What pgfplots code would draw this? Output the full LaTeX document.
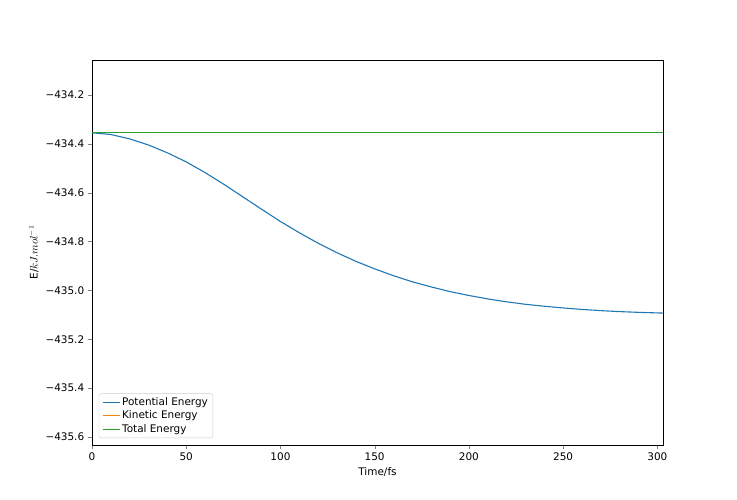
\documentclass[border=0pt]{standalone}
\usepackage{pgfplots}
\pgfplotsset{compat=1.18}
\usepackage{fontspec}
\setmainfont{DejaVu Sans}
\definecolor{cblue}{RGB}{31,119,180}
\definecolor{corange}{RGB}{255,127,14}
\definecolor{cgreen}{RGB}{44,160,44}
\begin{document}
\begin{tikzpicture}
\useasboundingbox (-92bp,-55bp) rectangle (645bp,445bp);
\begin{axis}[
  at={(0,0)}, anchor=south west, scale only axis,
  width=571bp, height=385bp,
  xmin=0, xmax=303, ymin=-435.633, ymax=-434.057,
  xtick={0,50,...,300},
  xticklabels={0,50,100,150,200,250,300},
  ytick={-435.6,-435.4,-435.2,-435.0,-434.8,-434.6,-434.4,-434.2},
  yticklabels={−435.6,−435.4,−435.2,−435.0,−434.8,−434.6,−434.4,−434.2},
  tick label style={font=\fontsize{10.5}{12}\selectfont},
  label style={font=\fontsize{10.5}{12}\selectfont},
  tick align=outside, tick pos=left,
  xlabel={Time/fs}, ylabel={E/$kJ.mol^{-1}$},
  legend pos=south west,
  legend style={font=\fontsize{10.5}{13}\selectfont, draw=black!20, rounded corners=2pt, cells={anchor=west}, at={(0.012,0.018)}},
  legend cell align=left,
]
\addplot[color=cblue, line width=1.1pt] coordinates {
(0,-434.355)(10,-434.362)(20,-434.38)(30,-434.405)(40,-434.437)(50,-434.474)(60,-434.518)(70,-434.566)(80,-434.617)(90,-434.668)(100,-434.718)(110,-434.764)(120,-434.807)(130,-434.846)(140,-434.881)(150,-434.912)(160,-434.94)(170,-434.965)(180,-434.986)(190,-435.005)(200,-435.021)(210,-435.035)(220,-435.047)(230,-435.057)(240,-435.065)(250,-435.072)(260,-435.078)(270,-435.083)(280,-435.087)(290,-435.09)(303,-435.093)};
\addlegendentry{Potential Energy}
\addplot[color=corange, line width=1.1pt] coordinates {(0,-434.355)(303,-434.355)};
\addlegendentry{Kinetic Energy}
\addplot[color=cgreen, line width=1.1pt] coordinates {(0,-434.355)(303,-434.355)};
\addlegendentry{Total Energy}
\end{axis}
\end{tikzpicture}
\end{document}
